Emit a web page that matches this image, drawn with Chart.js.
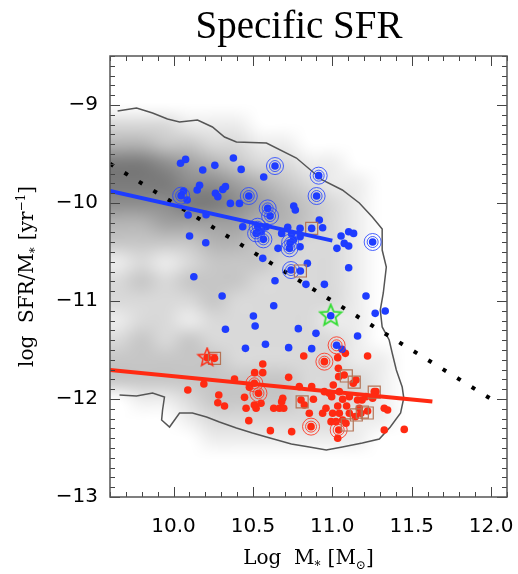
<!DOCTYPE html>
<html>
<head>
<meta charset="utf-8">
<script src="https://cdn.jsdelivr.net/npm/chart.js@4/dist/chart.umd.min.js"></script>
<style>
  html, body { margin: 0; padding: 0; background: #fff; }
  canvas { display: block; }
</style>
</head>
<body>
<canvas id="c" width="518" height="574"></canvas>
<script>
// ---- axis ticks ----
const xTicks = [10.0, 10.5, 11.0, 11.5, 12.0];
const yTicks = [-13, -12, -11, -10, -9];

// ---- star-forming (blue) galaxies: [log M*, log sSFR] ----
const blueGalaxies = [
  [10.044,-9.595],[10.076,-9.555],[10.184,-9.663],[10.26,-9.616],[10.377,-9.541],[10.426,-9.657],
  [10.568,-9.735],[10.639,-9.623],[10.914,-9.721],[10.149,-9.867],[10.164,-9.820],[10.264,-9.901],
  [10.279,-9.935],[10.310,-9.861],[10.327,-9.833],[10.048,-9.925],[10.063,-9.878],[10.086,-9.969],
  [10.474,-9.929],[10.358,-10.004],[10.415,-10.004],[10.593,-10.055],[10.608,-10.133],[10.757,-10.031],
  [10.767,-10.072],[10.901,-9.929],[10.092,-10.123],[10.205,-10.119],[10.436,-10.242],[10.530,-10.242],
  [10.551,-10.293],[10.520,-10.310],[10.566,-10.371],[10.583,-10.242],[10.681,-10.310],[10.719,-10.248],
  [10.744,-10.316],[10.797,-10.259],[10.797,-10.344],[10.870,-10.259],[10.918,-10.174],[10.939,-10.252],
  [10.734,-10.405],[10.658,-10.463],[10.730,-10.463],[10.797,-10.446],[10.755,-10.378],[11.055,-10.337],
  [11.103,-10.293],[11.134,-10.310],[11.075,-10.412],[11.103,-10.439],[11.029,-10.463],[11.254,-10.398],
  [10.101,-10.337],[10.203,-10.405],[10.562,-10.565],[10.740,-10.684],[10.799,-10.694],[10.843,-10.616],
  [11.103,-10.660],[10.128,-10.752],[10.639,-10.793],[10.834,-10.830],[10.950,-10.830],[10.306,-10.949],
  [10.631,-11.048],[10.503,-11.153],[10.514,-11.255],[10.327,-11.289],[10.786,-11.282],[10.897,-11.330],
  [10.990,-11.150],[11.212,-10.949],[11.270,-11.126],[11.333,-11.102],[11.159,-11.357],[10.453,-11.483],
  [10.579,-11.442],[10.725,-11.476],[10.870,-11.486],[11.027,-11.452],[11.061,-11.493]
];

// ---- quiescent (red) galaxies ----
const redGalaxies = [
  [10.212,-11.578],[10.258,-11.585],[10.090,-11.908],[10.191,-11.847],[10.285,-11.959],[10.279,-12.038],
  [10.321,-12.072],[10.384,-11.796],[10.447,-11.983],[10.457,-12.095],[10.511,-11.731],[10.562,-11.731],
  [10.562,-11.643],[10.509,-11.840],[10.535,-11.942],[10.478,-11.881],[10.520,-12.095],[10.509,-12.061],
  [10.551,-12.044],[10.474,-12.221],[10.610,-12.323],[10.631,-12.095],[10.667,-12.095],[10.694,-12.095],
  [10.681,-12.027],[10.688,-11.993],[10.725,-11.779],[10.744,-12.333],[10.803,-12.010],[10.824,-12.061],
  [10.792,-11.874],[10.820,-11.561],[10.866,-12.282],[10.870,-11.874],[10.881,-12.003],[10.950,-11.619],
  [10.950,-11.925],[10.981,-11.942],[10.960,-12.095],[10.996,-11.976],[11.002,-12.146],[11.006,-11.857],
  [11.034,-11.578],[11.038,-11.687],[11.040,-11.772],[11.082,-11.534],[11.075,-11.755],[11.132,-11.840],
  [11.149,-11.806],[11.044,-11.925],[11.065,-12.003],[11.090,-12.072],[11.034,-12.072],[11.044,-12.146],
  [11.065,-12.214],[11.040,-12.316],[11.034,-12.401],[11.086,-12.248],[11.107,-12.146],[11.145,-12.180],
  [11.170,-12.095],[11.187,-12.010],[11.180,-12.146],[11.222,-12.123],[11.212,-11.976],[11.264,-11.925],
  [11.254,-11.993],[11.275,-11.925],[11.222,-11.561],[11.327,-12.095],[11.348,-12.112],[11.327,-12.316],
  [11.453,-12.310],[11.023,-12.231],[10.855,-12.146],[11.107,-11.976],[10.939,-12.146],[10.992,-12.231],
  [11.159,-12.010]
];

// ---- highlighted subsamples ----
const blueRinged = [
  [10.639,-9.623],[10.914,-9.721],[10.048,-9.925],[10.474,-9.929],[10.593,-10.055],[10.608,-10.133],
  [10.901,-9.929],[10.530,-10.242],[10.520,-10.310],[10.566,-10.371],[10.734,-10.405],[10.730,-10.463],
  [11.254,-10.398],[10.740,-10.684]
];
const redRinged = [
  [10.509,-11.840],[10.535,-11.942],[10.866,-12.282],[10.950,-11.619],[11.040,-12.316],[11.027,-11.452]
];
const boxed = [
  [10.258,-11.585],[10.870,-10.259],[10.799,-10.694],[10.810,-12.030],[11.088,-11.765],[11.138,-11.827],
  [11.264,-11.929],[11.189,-12.133],[11.220,-12.143],[11.151,-12.163],[11.094,-12.265]
];
const greenStar = [[10.990,-11.150]];
const redStar = [[10.212,-11.578]];

// ---- lines ----
const blueFit = [[9.6,-9.878],[11.0,-10.384]];
const redFit = [[9.6,-11.705],[11.63,-12.026]];
const unitSfrLine = [[9.6,-9.6],[12.0,-12.0]];
const contourLine = [
  [9.648,-9.061],[9.767,-9.031],[9.868,-9.082],[9.962,-9.143],[10.038,-9.173],[10.151,-9.153],
  [10.245,-9.224],[10.321,-9.327],[10.396,-9.378],[10.585,-9.388],[10.774,-9.541],[10.937,-9.765],
  [11.063,-9.867],[11.170,-10.000],[11.252,-10.143],[11.314,-10.265],[11.314,-10.480],[11.340,-10.653],
  [11.321,-10.918],[11.302,-11.092],[11.314,-11.265],[11.358,-11.398],[11.377,-11.531],[11.403,-11.704],
  [11.440,-11.878],[11.450,-11.990],[11.430,-12.143],[11.365,-12.286],[11.296,-12.408],[11.189,-12.449],
  [11.063,-12.490],[10.962,-12.520],[10.855,-12.490],[10.742,-12.459],[10.585,-12.388],[10.497,-12.347],
  [10.396,-12.296],[10.289,-12.235],[10.208,-12.184],[10.119,-12.143],[10.038,-12.143],[9.975,-12.286],
  [9.925,-12.214],[9.931,-12.112],[9.943,-11.980],[9.868,-11.939],[9.767,-11.969],[9.660,-11.959]
];

// ---- binned density of the comparison sample (0 = empty, 9 = densest) ----
const densityX = [9.65, 9.8, 9.95, 10.1, 10.25, 10.4, 10.55, 10.7, 10.85, 11.0, 11.15, 11.3, 11.45];
const densityY = [-9.0, -9.2, -9.4, -9.6, -9.8, -10.0, -10.2, -10.4, -10.6, -10.8, -11.0, -11.2,
                  -11.4, -11.6, -11.8, -12.0, -12.2, -12.4, -12.6];
const density = [
  [0,0,0,0,0,0,0,0,0,0,0,0,0],
  [2,2,2,1,1,1,0,0,0,0,0,0,0],
  [4,4,3,3,2,2,1,1,0,0,0,0,0],
  [7,7,6,5,4,3,2,2,1,1,0,0,0],
  [7,7,7,6,6,5,4,3,2,1,1,0,0],
  [6,6,6,7,7,6,5,4,3,2,1,0,0],
  [4,4,5,5,5,5,4,4,3,2,1,0,0],
  [3,3,3,3,4,4,3,3,2,2,1,0,0],
  [1,2,1,2,3,3,3,2,2,2,1,0,0],
  [2,3,2,3,3,3,2,2,2,2,1,0,0],
  [2,2,2,2,3,2,2,2,2,2,1,0,0],
  [1,2,2,1,2,2,2,2,2,1,1,0,0],
  [2,3,2,3,2,2,2,2,2,2,1,0,0],
  [3,3,3,3,3,2,2,2,2,2,1,1,0],
  [3,3,3,3,3,3,3,3,2,2,2,1,0],
  [0,1,1,2,3,3,3,3,2,2,2,1,0],
  [0,0,0,1,2,2,2,2,2,2,1,1,0],
  [0,0,0,0,1,1,1,1,1,1,1,0,0],
  [0,0,0,0,0,0,0,0,0,0,0,0,0]
];

const BLUE = '#1e3cff';
const RED = '#ff2a12';
const BOX = 'rgb(180,115,85)';
const pts = a => a.map(([x, y]) => ({ x, y }));

function starImage(size, color, lw) {
  const c = document.createElement('canvas');
  c.width = c.height = size;
  const g = c.getContext('2d');
  const cx = size / 2, cy = size / 2, R = size / 2 - lw, r = R * 0.45;
  g.beginPath();
  for (let i = 0; i < 10; i++) {
    const a = -Math.PI / 2 + i * Math.PI / 5;
    const rad = i % 2 ? r : R;
    g[i ? 'lineTo' : 'moveTo'](cx + rad * Math.cos(a), cy + rad * Math.sin(a));
  }
  g.closePath();
  g.strokeStyle = color; g.lineWidth = lw; g.lineJoin = 'miter';
  g.stroke();
  return c;
}

// smoothed grey density map under the data
const shading = {
  id: 'shading',
  beforeDatasetsDraw(chart) {
    const { ctx, chartArea, scales: { x, y } } = chart;
    const nx = densityX.length, ny = densityY.length;
    const off = document.createElement('canvas');
    off.width = nx + 2; off.height = ny + 2;
    const octx = off.getContext('2d');
    const img = octx.createImageData(nx + 2, ny + 2);
    for (let j = 0; j < ny + 2; j++) {
      for (let i = 0; i < nx + 2; i++) {
        let v = 0;
        const jj = j - 1, ii = Math.max(0, i - 1);
        if (jj >= 0 && jj < ny && ii < nx) v = density[jj][ii];
        const g = Math.round(255 - v * 19);
        const k = (j * (nx + 2) + i) * 4;
        img.data[k] = img.data[k + 1] = img.data[k + 2] = g;
        img.data[k + 3] = 255;
      }
    }
    octx.putImageData(img, 0, 0);
    const dx = densityX[1] - densityX[0], dy = densityY[0] - densityY[1];
    const l = x.getPixelForValue(densityX[0] - 1.5 * dx);
    const r = x.getPixelForValue(densityX[nx - 1] + 1.5 * dx);
    const t = y.getPixelForValue(densityY[0] + 1.5 * dy);
    const b = y.getPixelForValue(densityY[ny - 1] - 1.5 * dy);
    ctx.save();
    ctx.beginPath();
    ctx.rect(chartArea.left, chartArea.top, chartArea.width, chartArea.height);
    ctx.clip();
    ctx.imageSmoothingEnabled = true;
    ctx.imageSmoothingQuality = 'high';
    ctx.drawImage(off, l, t, r - l, b - t);
    ctx.restore();
  }
};

// frame with inward ticks on all four sides, titles
const frame = {
  id: 'frame',
  afterDraw(chart) {
    const { ctx, chartArea: ca, scales: { x, y } } = chart;
    ctx.save();
    ctx.strokeStyle = '#444';
    ctx.lineWidth = 1;
    ctx.beginPath();
    for (let i = 96; i <= 121; i++) {
      const px = Math.round(x.getPixelForValue(i / 10)) + 0.5;
      const len = i % 5 === 0 ? 10 : 5;
      ctx.moveTo(px, ca.bottom); ctx.lineTo(px, ca.bottom - len);
      ctx.moveTo(px, ca.top); ctx.lineTo(px, ca.top + len);
    }
    for (let i = -130; i <= -85; i++) {
      const py = Math.round(y.getPixelForValue(i / 10)) + 0.5;
      const len = i % 10 === 0 ? 10 : 5;
      ctx.moveTo(ca.left, py); ctx.lineTo(ca.left + len, py);
      ctx.moveTo(ca.right, py); ctx.lineTo(ca.right - len, py);
    }
    ctx.stroke();
    ctx.lineWidth = 1.5;
    ctx.strokeStyle = '#555';
    ctx.strokeRect(ca.left, ca.top, ca.right - ca.left, ca.bottom - ca.top);

    // title
    ctx.fillStyle = '#000';
    ctx.font = '39px "Liberation Serif"';
    ctx.textAlign = 'center';
    ctx.textBaseline = 'alphabetic';
    ctx.fillText('Specific SFR', 299, 38);

    // axis titles with sub/superscripts
    const drawRich = (parts, cx, cy) => {
      const big = '20px "DejaVu Serif"', small = '12px "DejaVu Serif"';
      let w = 0;
      parts.forEach(p => { ctx.font = p.s ? small : big; w += ctx.measureText(p.t).width + (p.gap || 0); });
      let xx = cx - w / 2;
      ctx.textAlign = 'left';
      parts.forEach(p => {
        ctx.font = p.s ? small : big;
        ctx.fillText(p.t, xx, cy + (p.s || 0));
        xx += ctx.measureText(p.t).width + (p.gap || 0);
      });
    };
    drawRich([
      { t: 'Log  M' }, { t: '*', s: 6, gap: 7 }, { t: '[M' }, { t: '\u2299', s: 5 }, { t: ']' }
    ], (ca.left + ca.right) / 2, 564);

    ctx.save();
    ctx.translate(33, (ca.top + ca.bottom) / 2);
    ctx.rotate(-Math.PI / 2);
    drawRich([
      { t: 'log  SFR/M' }, { t: '*', s: 6, gap: 7 }, { t: '[yr' }, { t: '\u22121', s: -8 }, { t: ']' }
    ], 0, 0);
    ctx.restore();
    ctx.restore();
  }
};

const ring = (data, color, radius, order) => ({
  data: pts(data), showLine: false, pointStyle: 'circle', pointRadius: radius,
  pointBorderWidth: 1, pointBorderColor: color, pointBackgroundColor: 'rgba(0,0,0,0)', order
});

new Chart(document.getElementById('c'), {
  type: 'scatter',
  data: {
    datasets: [
      { type: 'line', data: pts(blueFit), borderColor: BLUE, borderWidth: 4, pointRadius: 0, order: 1 },
      { type: 'line', data: pts(redFit), borderColor: RED, borderWidth: 4, pointRadius: 0, order: 1 },
      { data: pts(greenStar), pointStyle: starImage(26, '#33dd33', 1.8), order: 2 },
      { data: pts(redStar), pointStyle: starImage(22, RED, 1.5), order: 2 },
      { data: pts(boxed), pointStyle: 'rect', pointRadius: 8.5, pointBorderWidth: 1.2,
        pointBorderColor: BOX, pointBackgroundColor: 'rgba(0,0,0,0)', order: 3 },
      ring(blueRinged, 'rgba(40,70,255,0.85)', 8.5, 4),
      ring(blueRinged, 'rgba(40,70,255,0.85)', 5.5, 4),
      ring(redRinged, 'rgba(255,50,30,0.85)', 8.5, 4),
      ring(redRinged, 'rgba(255,50,30,0.85)', 5.5, 4),
      { data: pts(blueGalaxies), pointRadius: 3.8, pointBorderWidth: 0, pointBackgroundColor: BLUE, order: 5 },
      { data: pts(redGalaxies), pointRadius: 3.8, pointBorderWidth: 0, pointBackgroundColor: RED, order: 5 },
      { type: 'line', data: pts(unitSfrLine), borderColor: '#000', borderWidth: 4,
        borderDash: [4, 13], borderCapStyle: 'butt', pointRadius: 0, order: 6 },
      { type: 'line', data: pts(contourLine), borderColor: '#555', borderWidth: 1.5,
        pointRadius: 0, tension: 0, order: 7 }
    ]
  },
  options: {
    responsive: false,
    animation: false,
    devicePixelRatio: 1,
    layout: { padding: { top: 56, right: 11, left: 0, bottom: 0 } },
    plugins: { legend: { display: false }, tooltip: { enabled: false }, title: { display: false } },
    scales: {
      x: {
        type: 'linear', min: 9.6, max: 12.1,
        afterBuildTicks: s => { s.ticks = xTicks.map(v => ({ value: v })); },
        afterFit: s => { s.height = 77; s.paddingLeft = 0; s.paddingRight = 0; },
        grid: { display: false, drawTicks: false }, border: { display: false },
        ticks: { color: '#000', font: { family: 'DejaVu Sans', size: 20 }, padding: 18,
                 maxRotation: 0, autoSkip: false, callback: v => v.toFixed(1) }
      },
      y: {
        type: 'linear', min: -13, max: -8.5,
        afterBuildTicks: s => { s.ticks = yTicks.map(v => ({ value: v })); },
        afterFit: s => { s.width = 110; s.paddingTop = 0; s.paddingBottom = 0; },
        grid: { display: false, drawTicks: false }, border: { display: false },
        ticks: { color: '#000', font: { family: 'DejaVu Sans', size: 20 }, padding: 12,
                 autoSkip: false, callback: v => '\u2212' + Math.abs(v) }
      }
    }
  },
  plugins: [shading, frame]
});
</script>
</body>
</html>
